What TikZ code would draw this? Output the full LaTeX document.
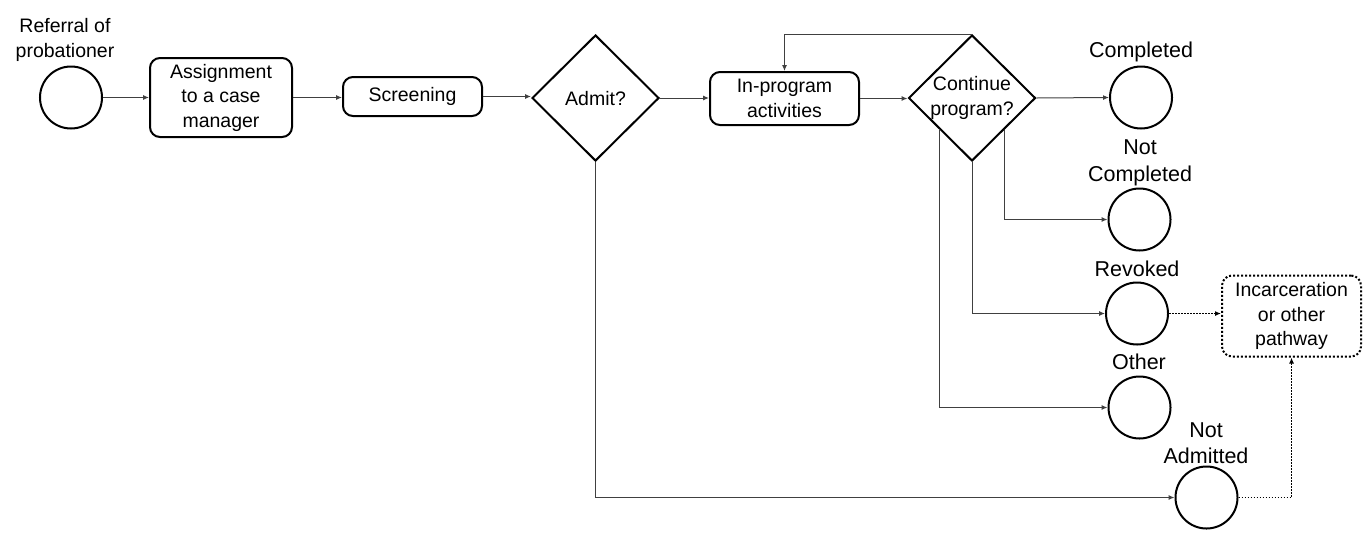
\documentclass[tikz,border=0pt]{standalone}
\usepackage{fontspec}
\setmainfont{Liberation Sans}
\usetikzlibrary{shapes.geometric,arrows.meta}
\begin{document}
\begin{tikzpicture}[x=1pt,y=-1pt,
  intext/.style={font=\fontsize{19.5}{24.5}\selectfont, align=center},
  outtext/.style={font=\fontsize{21.5}{26.5}\selectfont, align=center, inner sep=0pt},
  endcirc/.style={circle, draw, line width=2pt, minimum size=62pt, inner sep=0pt},
  procbox/.style={rectangle, rounded corners=10pt, draw, line width=2pt, inner sep=0pt, intext},
  decis/.style={diamond, draw, line width=2pt, inner sep=0pt, minimum width=127pt, minimum height=126pt},
  conn/.style={draw=black!75, line width=1pt, -{Latex[length=6pt,width=5pt]}},
  dotconn/.style={draw=black, line width=1.5pt, dash pattern=on 1.5pt off 1.5pt, -{Latex[length=6pt,width=5pt]}}
]
\useasboundingbox (0,0) rectangle (1372,550);

% nodes
\node[endcirc] (ref) at (71,97.5) {};
\node[intext, inner sep=0pt] (refl) at (65,40) {Referral of\\probationer};
\node[procbox, minimum width=142pt, minimum height=79pt] (assign) at (221,97.5) {Assignment\\to a case\\manager};
\node[procbox, minimum width=139pt, minimum height=39pt] (screen) at (412.5,96.5) {Screening};
\node[decis] (admit) at (595.5,98) {};
\node[intext] (admitl) at (595.5,99) {Admit?};
\node[procbox, minimum width=149pt, minimum height=53pt] (inprog) at (784.5,98.5) {In-program\\activities};
\node[decis] (cont) at (972,98) {};
\node[intext] (contl) at (972,98) {Continue\\program?};

\node[endcirc] (compl) at (1141,97.5) {};
\node[outtext] (compll) at (1141,52) {Completed};
\node[endcirc] (notc) at (1139.5,219.5) {};
\node[outtext] (notcl) at (1140,163) {Not\\Completed};
\node[endcirc] (revk) at (1137,313.5) {};
\node[outtext] (revkl) at (1137,269) {Revoked};
\node[endcirc] (oth) at (1139.5,407.5) {};
\node[outtext] (othl) at (1139,362) {Other};
\node[endcirc] (nadm) at (1206.5,497.5) {};
\node[outtext] (nadml) at (1206,443) {Not\\Admitted};

\node[procbox, dash pattern=on 2pt off 2pt, minimum width=139pt, minimum height=81pt] (incar) at (1291.5,316) {Incarceration\\or other\\pathway};

% connectors
\draw[conn] (ref.east) -- (assign.west);
\draw[conn] (assign.east) -- (assign.east -| screen.west);
\draw[conn] (screen.east) -- (screen.east -| admit.west);
\draw[conn] (admit.east) -- (admit.east -| inprog.west);
\draw[conn] (inprog.east) -- (inprog.east -| cont.west);
\draw[conn] (cont.north) -| (inprog.north);
\draw[conn] (cont.east) -- (compl.west);
\draw[conn] (cont.south east) |- (notc.west);
\draw[conn] (cont.south) |- (revk.west);
\draw[conn] (cont.south west) |- (oth.west);
\draw[conn] (admit.south) |- (nadm.west);
\draw[dotconn] (revk.east) -- (revk.east -| incar.west);
\draw[dotconn] (nadm.east) -| (incar.south);
\end{tikzpicture}
\end{document}
